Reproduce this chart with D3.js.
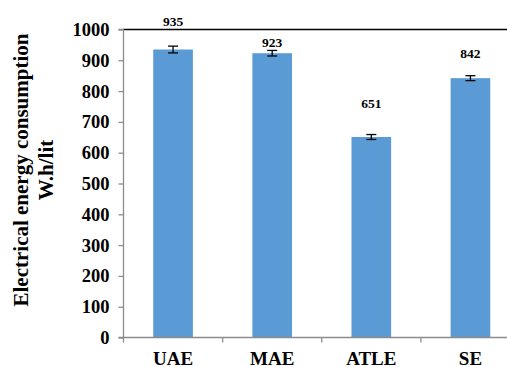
<!DOCTYPE html>
<html>
<head>
<meta charset="utf-8">
<script src="https://cdn.jsdelivr.net/npm/d3@7"></script>
<style>
  html, body { margin: 0; padding: 0; background: #fff; }
  svg { display: block; }
</style>
</head>
<body>
<svg id="chart" width="507" height="367"></svg>
<script>
// Electrical energy consumption per process
const categories = ["UAE", "MAE", "ATLE", "SE"];
const values = [935, 923, 651, 842];
const errors = [11, 9, 8, 8];
const yTicks = [0, 100, 200, 300, 400, 500, 600, 700, 800, 900, 1000];

// vertical gap (px) between each bar top and its value label
const labelGap = [24, 6, 28.5, 20];

const FONT = "'Liberation Serif', 'Times New Roman', serif";
const svg = d3.select("#chart");
const W = 507;
const plot = { left: 123.5, top: 29.5, right: 520, bottom: 337.5 };

function serif(sel, size) {
  return sel.style("font-family", FONT).style("font-weight", "bold")
    .style("font-size", size + "px").style("fill", "#000");
}

const x = d3.scaleBand()
  .domain(categories)
  .range([plot.left, plot.right])
  .paddingInner(0.6)
  .paddingOuter(0.3);

const y = d3.scaleLinear()
  .domain([0, 1000])
  .range([plot.bottom, plot.top]);

// top frame line
svg.append("line")
  .attr("x1", plot.left).attr("x2", W)
  .attr("y1", plot.top).attr("y2", plot.top)
  .attr("stroke", "#000").attr("stroke-width", 1.3);

// bars
svg.append("g").selectAll("rect")
  .data(categories)
  .join("rect")
  .attr("x", d => x(d))
  .attr("width", x.bandwidth())
  .attr("y", (d, i) => y(values[i]))
  .attr("height", (d, i) => y(0) - y(values[i]))
  .attr("fill", "#5B9BD5");

// error bars
const eg = svg.append("g").attr("stroke", "#000").attr("stroke-width", 1.3);
categories.forEach((c, i) => {
  const cx = x(c) + x.bandwidth() / 2;
  const hi = y(values[i] + errors[i]);
  const lo = y(values[i] - errors[i]);
  eg.append("line").attr("x1", cx).attr("x2", cx).attr("y1", hi).attr("y2", lo);
  eg.append("line").attr("x1", cx - 5).attr("x2", cx + 5).attr("y1", hi).attr("y2", hi);
  eg.append("line").attr("x1", cx - 5).attr("x2", cx + 5).attr("y1", lo).attr("y2", lo);
});

// value labels
serif(svg.append("g").selectAll("text")
  .data(categories)
  .join("text")
  .attr("x", d => x(d) + x.bandwidth() / 2)
  .attr("y", (d, i) => y(values[i]) - labelGap[i])
  .attr("text-anchor", "middle")
  .text((d, i) => values[i]), 13.5);

// y axis
const yAxis = svg.append("g")
  .attr("transform", `translate(${plot.left},0)`)
  .call(d3.axisLeft(y).tickValues(yTicks).tickSize(5).tickPadding(9).tickFormat(d3.format("d")));
yAxis.selectAll("path, line").attr("stroke", "#8c8c8c").attr("stroke-width", 1.3);
yAxis.select(".domain").attr("d", `M-5,${plot.bottom}H0V${plot.top}H-5`);
serif(yAxis.selectAll("text"), 18.5);

// x axis
const xAxis = svg.append("g")
  .attr("transform", `translate(0,${plot.bottom})`);
xAxis.append("line")
  .attr("x1", plot.left).attr("x2", W)
  .attr("y1", 0).attr("y2", 0)
  .attr("stroke", "#8c8c8c").attr("stroke-width", 1.3);
const step = x.step();
const boundaries = d3.range(categories.length).map(i => plot.left + i * step);
xAxis.selectAll("line.tick")
  .data(boundaries)
  .join("line")
  .attr("class", "tick")
  .attr("x1", d => d).attr("x2", d => d)
  .attr("y1", 0).attr("y2", 5)
  .attr("stroke", "#8c8c8c").attr("stroke-width", 1.3);
serif(xAxis.selectAll("text")
  .data(categories)
  .join("text")
  .attr("x", d => x(d) + x.bandwidth() / 2)
  .attr("y", 27)
  .attr("text-anchor", "middle")
  .text(d => d), 19);

// y axis title
const title = serif(svg.append("text")
  .attr("transform", "translate(0,170) rotate(-90)")
  .attr("text-anchor", "middle"), 21);
title.append("tspan").attr("x", 0).attr("y", 27.5).text("Electrical energy consumption");
title.append("tspan").attr("x", 0).attr("y", 53).text("W.h/lit");
</script>
</body>
</html>
